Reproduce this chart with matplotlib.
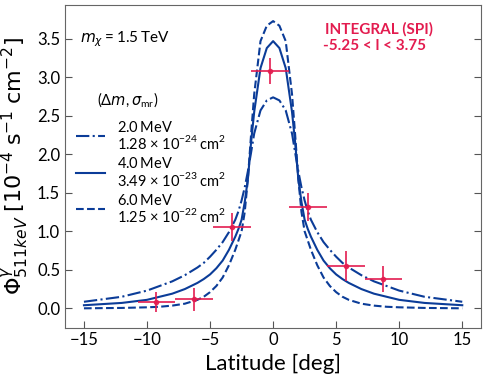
"""511 keV latitude profile vs INTEGRAL (SPI) data."""

import matplotlib

matplotlib.use("Agg")
import matplotlib.pyplot as plt

plt.rcParams["font.family"] = ["Lato", "DejaVu Sans"]
plt.rcParams["mathtext.fontset"] = "custom"
plt.rcParams["mathtext.rm"] = "Lato"
plt.rcParams["mathtext.it"] = "DejaVu Sans:italic"
plt.rcParams["mathtext.bf"] = "Lato:bold"
plt.rcParams["mathtext.fallback"] = "stixsans"

# model curves
latitude = [-15, -12, -10, -9, -8, -7, -6, -5.5, -5, -4.5, -4, -3.5, -3, -2.75, -2.5, -2.25,
            -2, -1.75, -1.5, -1, -0.5, 0, 0.5, 1, 1.5, 1.75, 2, 2.25, 2.5, 2.75, 3, 3.5,
            4, 4.5, 5, 5.5, 6, 7, 8, 9, 10, 12, 15]
flux_2mev = [0.085, 0.15, 0.23, 0.29, 0.35, 0.43, 0.53, 0.59, 0.67, 0.76, 0.86, 0.99, 1.15,
             1.26, 1.40, 1.57, 1.78, 2.02, 2.27, 2.57, 2.70, 2.74, 2.70, 2.57, 2.27, 2.02,
             1.78, 1.57, 1.40, 1.26, 1.15, 0.99, 0.86, 0.76, 0.67, 0.59, 0.53, 0.43, 0.35,
             0.29, 0.23, 0.15, 0.085]
flux_4mev = [0.04, 0.07, 0.11, 0.15, 0.19, 0.25, 0.33, 0.38, 0.44, 0.52, 0.62, 0.76, 0.93,
             1.03, 1.15, 1.38, 1.68, 2.15, 2.55, 3.12, 3.38, 3.47, 3.38, 3.12, 2.55, 2.15,
             1.68, 1.38, 1.15, 1.03, 0.93, 0.76, 0.62, 0.52, 0.44, 0.38, 0.33, 0.25, 0.19,
             0.15, 0.11, 0.07, 0.04]
flux_6mev = [0.0, 0.005, 0.013, 0.02, 0.035, 0.06, 0.11, 0.15, 0.21, 0.29, 0.40, 0.56, 0.76,
             0.88, 1.00, 1.25, 1.68, 2.25, 2.78, 3.47, 3.67, 3.73, 3.67, 3.47, 2.78, 2.25,
             1.68, 1.25, 1.00, 0.88, 0.76, 0.56, 0.40, 0.29, 0.21, 0.15, 0.11, 0.06, 0.035,
             0.02, 0.013, 0.005, 0.0]

# INTEGRAL (SPI) points
spi_lat = [-9.25, -6.25, -3.25, -0.25, 2.75, 5.75, 8.75]
spi_flux = [0.08, 0.12, 1.06, 3.08, 1.32, 0.55, 0.38]
spi_lat_err = [1.5, 1.5, 1.5, 1.5, 1.5, 1.5, 1.5]
spi_flux_err = [0.13, 0.15, 0.18, 0.17, 0.18, 0.2, 0.17]

labels = [
    "2.0$\\,$MeV\n1.28 × 10$^{-24}\\,$cm$^2$",
    "4.0$\\,$MeV\n3.49 × 10$^{-23}\\,$cm$^2$",
    "6.0$\\,$MeV\n1.25 × 10$^{-22}\\,$cm$^2$",
]

BLUE = "#0b3c98"
RED = "#e31c4f"

fig = plt.figure(figsize=(4.89, 3.8), dpi=100)
ax = fig.add_axes([0.133, 0.138, 0.851, 0.849])

ax.plot(latitude, flux_2mev, color=BLUE, lw=1.5, ls="-.", label=labels[0])
ax.plot(latitude, flux_4mev, color=BLUE, lw=1.5, ls="-", label=labels[1])
ax.plot(latitude, flux_6mev, color=BLUE, lw=1.5, ls="--", label=labels[2])
ax.errorbar(spi_lat, spi_flux, xerr=spi_lat_err, yerr=spi_flux_err, fmt="o", ms=3,
            color=RED, ecolor=RED, elinewidth=1.4, alpha=0.85, capsize=0)

ax.set_xlim(-16.5, 16.5)
ax.set_ylim(-0.25, 3.94)
ax.set_xticks([-15, -10, -5, 0, 5, 10, 15])
ax.set_yticks([0.0, 0.5, 1.0, 1.5, 2.0, 2.5, 3.0, 3.5])
ax.tick_params(direction="in", length=5, labelsize=12, right=True, color="#555555")
for spine in ax.spines.values():
    spine.set_color("#666666")

ax.set_xlabel("Latitude [deg]", fontsize=16, labelpad=4)
ax.set_ylabel(r"$\Phi^{\gamma}_{511keV}\;[10^{-4}\;\mathrm{s}^{-1}\;\mathrm{cm}^{-2}]$",
              fontsize=16, math_fontfamily="dejavusans", labelpad=4)

ax.text(0.036, 0.885, "$m_\\chi = 1.5\\,$TeV", transform=ax.transAxes, fontsize=11)
ax.text(0.077, 0.69, "($\\Delta m, \\sigma_{\\rm mr}$)", transform=ax.transAxes, fontsize=10.5)

legend = ax.legend(loc="upper left", bbox_to_anchor=(-0.005, 0.685), frameon=False,
                   fontsize=10.5, handlelength=2.0, labelspacing=0.3, handletextpad=0.8)
for text in legend.get_texts():
    text.set_linespacing(0.95)

ax.text(0.755, 0.925, "INTEGRAL (SPI)", transform=ax.transAxes, fontsize=11,
        fontweight="bold", color=RED, ha="center", va="center")
ax.text(0.743, 0.872, "-5.25 < l < 3.75", transform=ax.transAxes, fontsize=11,
        fontweight="bold", color=RED, ha="center", va="center")

fig.savefig("out.png", dpi=100)
plt.close(fig)
